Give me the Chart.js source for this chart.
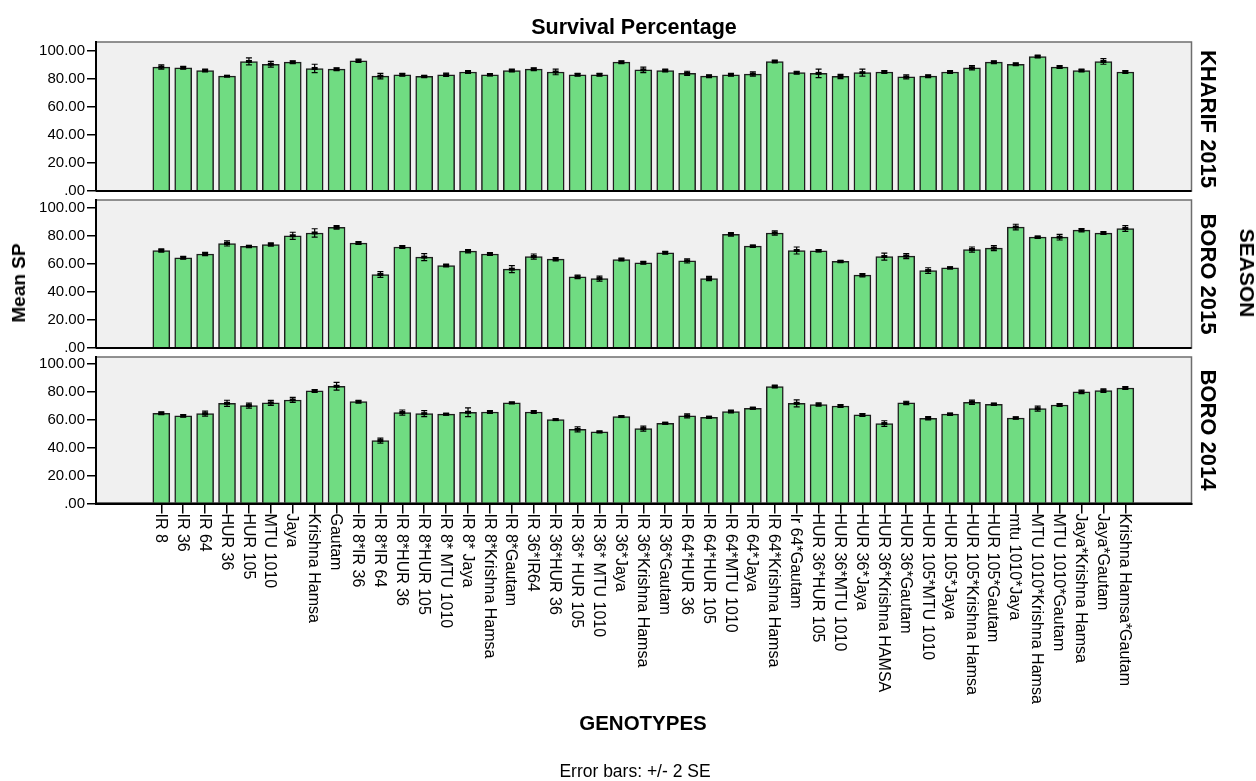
<!DOCTYPE html>
<html>
<head>
<meta charset="utf-8">
<script src="https://cdn.jsdelivr.net/npm/chart.js@4"></script>
<style>
  html, body { margin: 0; padding: 0; background: #fff; }
  body { width: 1256px; height: 781px; position: relative; overflow: hidden;
         font-family: "Liberation Sans", Arial, sans-serif; color: #000; }
  .panel { position: absolute; left: 0; }
  .txt { position: absolute; white-space: nowrap; transform-origin: center center; }
  .bold { font-weight: bold; font-size: 20px; }
</style>
</head>
<body>

<canvas id="p1" class="panel" style="top:0" width="1256" height="196"></canvas>
<canvas id="p2" class="panel" style="top:196px" width="1256" height="156"></canvas>
<canvas id="p3" class="panel" style="top:352px" width="1256" height="429"></canvas>

<div class="txt bold" style="left:634px;top:27px;font-size:21.5px;transform:translate(-50%,-50%)">Survival Percentage</div>
<div class="txt bold" style="left:19px;top:283px;font-size:19px;transform:translate(-50%,-50%) rotate(-90deg)">Mean SP</div>
<div class="txt bold" style="left:1208px;top:119px;font-size:22px;transform:translate(-50%,-50%) rotate(90deg)">KHARIF 2015</div>
<div class="txt bold" style="left:1208px;top:274px;font-size:22px;transform:translate(-50%,-50%) rotate(90deg)">BORO 2015</div>
<div class="txt bold" style="left:1208px;top:430px;font-size:22px;transform:translate(-50%,-50%) rotate(90deg)">BORO 2014</div>
<div class="txt bold" style="left:1247px;top:273px;font-size:21px;transform:translate(-50%,-50%) rotate(90deg)">SEASON</div>
<div class="txt bold" style="left:643px;top:723px;font-size:20.5px;transform:translate(-50%,-50%)">GENOTYPES</div>
<div class="txt" style="left:635px;top:771px;font-size:17.5px;transform:translate(-50%,-50%)">Error bars: +/- 2 SE</div>

<script>
/* ---------------- data ---------------- */
const genotypes = [
  "IR 8", "IR 36", "IR 64", "HUR 36", "HUR 105", "MTU 1010", "Jaya", "Krishna Hamsa", "Gautam",
  "IR 8*IR 36", "IR 8*IR 64", "IR 8*HUR 36", "IR 8*HUR 105", "IR 8* MTU 1010", "IR 8* Jaya",
  "IR 8*Krishna Hamsa", "IR 8*Gautam", "IR 36*IR64", "IR 36*HUR 36", "IR 36* HUR 105",
  "IR 36* MTU 1010", "IR 36*Jaya", "IR 36*Krishna Hamsa", "IR 36*Gautam", "IR 64*HUR 36",
  "IR 64*HUR 105", "IR 64*MTU 1010", "IR 64*Jaya", "IR 64*Krishna Hamsa", "Ir 64*Gautam",
  "HUR 36*HUR 105", "HUR 36*MTU 1010", "HUR 36*Jaya", "HUR 36*Krishna HAMSA", "HUR 36*Gautam",
  "HUR 105*MTU 1010", "HUR 105*Jaya", "HUR 105*Krishna Hamsa", "HUR 105*Gautam", "mtu 1010*Jaya",
  "MTU 1010*Krishna Hamsa", "MTU 1010*Gautam", "Jaya*Krishna Hamsa", "Jaya*Gautam",
  "Krishna Hamsa*Gautam"
];

const kharif2015 = [88.5, 88, 86, 82, 92.5, 90.5, 92, 87.5, 87, 93, 82, 83, 81.8, 83, 85, 83, 86, 87, 85, 83, 83, 92, 86.5,
  86, 84, 82, 83, 83.5, 92.5, 84.5, 84, 81.8, 84.5, 85, 81.5, 82, 85, 88, 92, 90.5, 96, 88.5, 86, 92.5, 85];
const kharif2015Err = [1.5, 1, 1, 0.3, 2.5, 2, 1, 3, 1, 1.2, 2, 1, 0.8, 1.2, 1, 0.8, 1, 1, 2, 1, 1, 1, 2,
  1, 1.5, 1, 1, 1.5, 1, 1, 3, 1.5, 2.5, 1, 1.5, 1, 1, 1.5, 1, 1, 1, 1, 1, 2, 1];

const boro2015 = [69.5, 64.3, 67, 74.5, 72.4, 73.8, 80, 82, 86, 74.8, 52.4, 72, 64.8, 58.8, 69, 67, 56.2, 65.2, 63.3, 50.7,
  49.5, 63, 60.7, 67.9, 62.1, 49.5, 81, 72.6, 82, 69.5, 69.3, 61.7, 51.9, 65.2, 65.5, 55.2, 57.1, 70.2, 71.2, 86.2,
  79, 79, 84, 81.9, 85.2];
const boro2015Err = [1.2, 1, 1.2, 1.8, 0.8, 1.2, 2.5, 3, 1.2, 1, 2, 1, 2.5, 1, 1.2, 1, 2.5, 1.8, 1.2, 1.2,
  1.8, 1, 1, 1, 1.5, 1.5, 1.2, 0.8, 1.5, 2.5, 0.8, 0.8, 1.2, 2.5, 1.8, 2, 0.8, 1.8, 1.8, 2,
  0.8, 2, 1.2, 1, 2];

const boro2014 = [64.7, 62.8, 64.4, 71.8, 70.2, 72.1, 74.2, 80.7, 84, 73, 45.1, 65.2, 64.4, 64, 65.4, 65.6, 72.1, 65.6, 60.1,
  53.2, 51.3, 62.3, 53.7, 57.5, 62.8, 61.8, 65.9, 68.3, 83.8, 71.8, 70.9, 69.9, 63.5, 57.3, 72.1, 61.1, 64, 72.6,
  71.1, 61.3, 68, 70.6, 80, 80.9, 82.8];
const boro2014Err = [1, 1, 1.8, 2.2, 1.8, 1.8, 1.8, 1, 2.8, 1, 1.8, 1.8, 2.2, 0.6, 3.2, 1, 0.6, 1, 0.6,
  1.8, 0.6, 0.6, 1.8, 0.6, 1.5, 0.6, 1, 0.6, 1, 2.5, 1.2, 1, 1, 2, 1.2, 1.2, 0.8, 1.5,
  0.8, 0.8, 1.8, 1, 1.2, 1.2, 1];

const yTicks = [0, 20, 40, 60, 80, 100];

/* ---------------- styling ---------------- */
const FONT = '"Liberation Sans", Arial, sans-serif';
const BAR_FILL = "#70dc82";

/* panel background, zero line, error bars, rotated genotype labels */
function decoPlugin(values, errs, showLabels) {
  return {
    id: "deco",
    beforeDraw(chart) {
      const { ctx, chartArea: a } = chart;
      ctx.save();
      ctx.fillStyle = "#f0f0f0";
      ctx.fillRect(a.left, a.top, a.right - a.left, a.bottom - a.top);
      ctx.strokeStyle = "#6e6e6e";
      ctx.lineWidth = 1.5;
      ctx.strokeRect(a.left, a.top, a.right - a.left, a.bottom - a.top);
      ctx.restore();
    },
    afterDatasetsDraw(chart) {
      const { ctx, chartArea: a } = chart;
      const xs = chart.scales.x, ys = chart.scales.y;
      ctx.save();
      ctx.strokeStyle = "#000";
      ctx.lineWidth = 2;
      ctx.beginPath();
      ctx.moveTo(a.left, a.bottom);
      ctx.lineTo(a.right, a.bottom);
      ctx.stroke();

      ctx.lineWidth = 1.2;
      ctx.fillStyle = "#000";
      values.forEach((v, i) => {
        const x = xs.getPixelForValue(i);
        const top = ys.getPixelForValue(v + errs[i]);
        const bot = ys.getPixelForValue(v - errs[i]);
        const mid = ys.getPixelForValue(v);
        ctx.beginPath();
        ctx.moveTo(x, top); ctx.lineTo(x, bot);
        ctx.moveTo(x - 3, top); ctx.lineTo(x + 3, top);
        ctx.moveTo(x - 3, bot); ctx.lineTo(x + 3, bot);
        ctx.stroke();
        ctx.fillRect(x - 3, mid - 1.5, 6, 3);
      });
      ctx.restore();
    },
    afterDraw(chart) {
      if (!showLabels) return;
      const { ctx, chartArea: a } = chart;
      const xs = chart.scales.x;
      ctx.save();
      ctx.font = "16px " + FONT;
      ctx.fillStyle = "#000";
      ctx.textAlign = "left";
      ctx.textBaseline = "middle";
      genotypes.forEach((g, i) => {
        ctx.save();
        ctx.translate(xs.getPixelForValue(i) - 1, a.bottom + 10);
        ctx.rotate(Math.PI / 2);
        ctx.fillText(g, 0, 0);
        ctx.restore();
      });
      ctx.restore();
    }
  };
}

function makePanel(id, values, errs, yMax, pad, showX) {
  return new Chart(document.getElementById(id), {
    type: "bar",
    data: {
      datasets: [{
        data: values.map((v, i) => ({ x: i, y: v })),
        backgroundColor: BAR_FILL,
        borderColor: "#1e1e1e",
        borderWidth: 1.5,
        barThickness: 17
      }]
    },
    options: {
      responsive: false,
      animation: false,
      layout: { padding: { left: 0, right: 64.5, top: pad.top, bottom: pad.bottom } },
      plugins: { legend: { display: false }, tooltip: { enabled: false } },
      scales: {
        x: {
          type: "linear",
          min: -2.98,
          max: 47.02,
          offset: false,
          display: showX,
          afterBuildTicks(s) { s.ticks = genotypes.map((_, i) => ({ value: i })); },
          afterFit(s) {
            if (showX) s.height = 277.5;
            s.paddingLeft = 0; s.paddingRight = 0;
          },
          ticks: { display: false },
          grid: { offset: false, drawOnChartArea: false, tickLength: 10, color: "#000", lineWidth: 1.5 },
          border: { color: "#000", width: 2 }
        },
        y: {
          min: 0,
          max: yMax,
          afterBuildTicks(s) { s.ticks = yTicks.map(v => ({ value: v })); },
          afterFit(s) { s.width = 96; s.paddingTop = 0; s.paddingBottom = 0; },
          ticks: {
            font: { family: FONT, size: 15 },
            color: "#000",
            padding: 2,
            callback: v => (v === 0 ? ".00" : v.toFixed(2))
          },
          grid: { drawOnChartArea: false, tickLength: 9, color: "#000", lineWidth: 1.5 },
          border: { color: "#000", width: 2 }
        }
      }
    },
    plugins: [decoPlugin(values, errs, showX)]
  });
}

makePanel("p1", kharif2015, kharif2015Err, 106.4, { top: 42, bottom: 5 }, false);
makePanel("p2", boro2015, boro2015Err, 105.5, { top: 4, bottom: 4 }, false);
makePanel("p3", boro2014, boro2014Err, 105, { top: 5, bottom: 0 }, true);
</script>
</body>
</html>
